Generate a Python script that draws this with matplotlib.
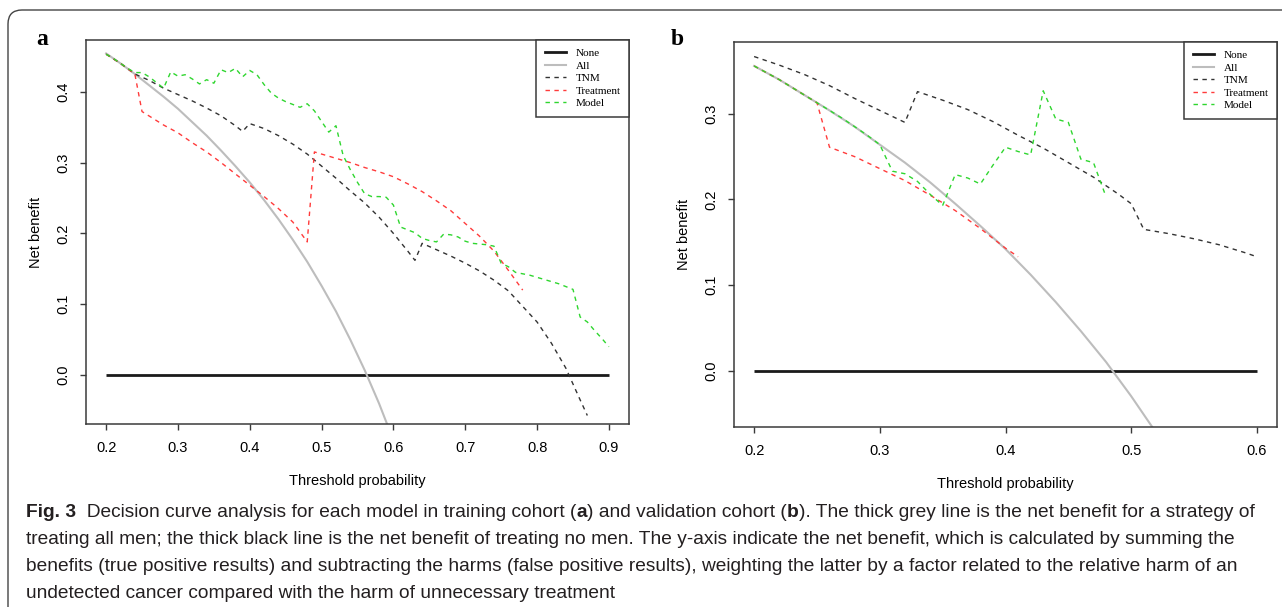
import matplotlib
matplotlib.use("Agg")
import matplotlib.pyplot as plt
from matplotlib.patches import FancyBboxPatch
from matplotlib.transforms import IdentityTransform
from matplotlib.lines import Line2D

# ---------------- data: panel a (training cohort) ----------------
thr_all_a = [0.20, 0.22, 0.24, 0.26, 0.28, 0.30, 0.32, 0.34, 0.36, 0.38, 0.40,
             0.42, 0.44, 0.46, 0.48, 0.50, 0.52, 0.54, 0.56, 0.58, 0.60]
nb_all_a = [0.454, 0.440, 0.425, 0.409, 0.393, 0.376, 0.357, 0.338, 0.317, 0.295, 0.272,
            0.247, 0.220, 0.191, 0.160, 0.126, 0.090, 0.050, 0.007, -0.040, -0.092]
none_x_a = [0.2, 0.9]
none_y_a = [0.0, 0.0]

thr_tnm_a = [0.20, 0.22, 0.24, 0.26, 0.28, 0.30, 0.32, 0.34, 0.36, 0.38, 0.39, 0.40,
             0.42, 0.44, 0.46, 0.48, 0.50, 0.52, 0.54, 0.56, 0.58, 0.60, 0.62, 0.63,
             0.64, 0.66, 0.68, 0.70, 0.72, 0.74, 0.76, 0.78, 0.80, 0.82, 0.84, 0.86, 0.87]
nb_tnm_a = [0.453, 0.440, 0.425, 0.416, 0.405, 0.396, 0.387, 0.377, 0.366, 0.352, 0.344, 0.355,
            0.348, 0.338, 0.326, 0.312, 0.295, 0.278, 0.260, 0.243, 0.223, 0.200, 0.175, 0.162,
            0.186, 0.177, 0.168, 0.158, 0.147, 0.134, 0.119, 0.097, 0.075, 0.045, 0.010, -0.035, -0.057]

thr_trt_a = [0.20, 0.22, 0.24, 0.25, 0.28, 0.30, 0.32, 0.34, 0.36, 0.38, 0.40, 0.42,
             0.44, 0.46, 0.48, 0.49, 0.50, 0.52, 0.54, 0.56, 0.58, 0.60, 0.62, 0.64,
             0.66, 0.68, 0.70, 0.72, 0.74, 0.76, 0.78]
nb_trt_a = [0.453, 0.440, 0.425, 0.372, 0.353, 0.342, 0.328, 0.315, 0.300, 0.284, 0.268, 0.252,
            0.235, 0.216, 0.188, 0.315, 0.312, 0.306, 0.300, 0.293, 0.287, 0.280, 0.270, 0.259,
            0.246, 0.232, 0.214, 0.196, 0.175, 0.148, 0.120]

thr_mod_a = [0.20, 0.21, 0.22, 0.23, 0.24, 0.25, 0.26, 0.27, 0.28, 0.29, 0.30, 0.31,
             0.32, 0.33, 0.34, 0.35, 0.36, 0.37, 0.38, 0.39, 0.40, 0.41, 0.42, 0.43,
             0.44, 0.45, 0.46, 0.47, 0.48, 0.49, 0.50, 0.51, 0.52, 0.53, 0.54, 0.55,
             0.56, 0.57, 0.58, 0.59, 0.60, 0.61, 0.62, 0.63, 0.64, 0.65, 0.66, 0.67,
             0.68, 0.69, 0.70, 0.71, 0.72, 0.73, 0.74, 0.75, 0.76, 0.77, 0.78, 0.79,
             0.80, 0.81, 0.82, 0.83, 0.84, 0.85, 0.86, 0.87, 0.88, 0.89, 0.90]
nb_mod_a = [0.453, 0.447, 0.440, 0.433, 0.427, 0.427, 0.421, 0.413, 0.405, 0.428, 0.422, 0.424,
            0.418, 0.411, 0.417, 0.412, 0.431, 0.427, 0.433, 0.421, 0.430, 0.424, 0.410, 0.398,
            0.391, 0.386, 0.382, 0.378, 0.383, 0.373, 0.358, 0.343, 0.352, 0.310, 0.290, 0.272,
            0.256, 0.252, 0.252, 0.251, 0.240, 0.209, 0.205, 0.201, 0.193, 0.190, 0.188, 0.199,
            0.198, 0.195, 0.189, 0.186, 0.185, 0.184, 0.182, 0.158, 0.153, 0.145, 0.143, 0.141,
            0.138, 0.135, 0.132, 0.129, 0.125, 0.121, 0.082, 0.075, 0.063, 0.052, 0.040]

xticks_a = [0.2, 0.3, 0.4, 0.5, 0.6, 0.7, 0.8, 0.9]
xticklabels_a = ["0.2", "0.3", "0.4", "0.5", "0.6", "0.7", "0.8", "0.9"]
yticks_a = [0.0, 0.1, 0.2, 0.3, 0.4]
yticklabels_a = ["0.0", "0.1", "0.2", "0.3", "0.4"]

# ---------------- data: panel b (validation cohort) ----------------
thr_all_b = [0.20, 0.22, 0.24, 0.26, 0.28, 0.30, 0.32, 0.34, 0.36, 0.38, 0.40,
             0.42, 0.44, 0.46, 0.48, 0.50, 0.52]
nb_all_b = [0.356, 0.340, 0.322, 0.304, 0.285, 0.264, 0.243, 0.220, 0.195, 0.169, 0.142,
            0.112, 0.080, 0.046, 0.010, -0.030, -0.073]
none_x_b = [0.2, 0.6]
none_y_b = [0.0, 0.0]

thr_tnm_b = [0.20, 0.22, 0.24, 0.26, 0.28, 0.30, 0.32, 0.33, 0.35, 0.37, 0.39, 0.41,
             0.43, 0.45, 0.47, 0.49, 0.50, 0.51, 0.53, 0.55, 0.57, 0.59, 0.60]
nb_tnm_b = [0.367, 0.357, 0.346, 0.333, 0.318, 0.304, 0.290, 0.326, 0.316, 0.305, 0.291, 0.275,
            0.260, 0.243, 0.226, 0.206, 0.195, 0.165, 0.160, 0.154, 0.147, 0.138, 0.133]

thr_trt_b = [0.20, 0.22, 0.24, 0.25, 0.26, 0.28, 0.30, 0.32, 0.34, 0.36, 0.38, 0.40, 0.41]
nb_trt_b = [0.356, 0.340, 0.322, 0.313, 0.261, 0.250, 0.236, 0.222, 0.205, 0.187, 0.166, 0.143, 0.133]

thr_mod_b = [0.20, 0.21, 0.22, 0.23, 0.24, 0.25, 0.26, 0.27, 0.28, 0.29, 0.30, 0.31,
             0.32, 0.33, 0.34, 0.35, 0.36, 0.37, 0.38, 0.39, 0.40, 0.41, 0.42, 0.43,
             0.44, 0.45, 0.46, 0.47, 0.48]
nb_mod_b = [0.356, 0.348, 0.340, 0.331, 0.322, 0.313, 0.304, 0.295, 0.285, 0.275, 0.264, 0.233,
            0.230, 0.221, 0.206, 0.193, 0.229, 0.225, 0.218, 0.240, 0.261, 0.256, 0.252, 0.327,
            0.294, 0.290, 0.247, 0.243, 0.203]

xticks_b = [0.2, 0.3, 0.4, 0.5, 0.6]
xticklabels_b = ["0.2", "0.3", "0.4", "0.5", "0.6"]
yticks_b = [0.0, 0.1, 0.2, 0.3]
yticklabels_b = ["0.0", "0.1", "0.2", "0.3"]

legend_labels = ["None", "All", "TNM", "Treatment", "Model"]
panel_letters = ["a", "b"]
xlabel = "Threshold probability"
ylabel = "Net benefit"

caption_lines = [
    [("Fig. 3", True), ("  Decision curve analysis for each model in training cohort (", False),
     ("a", True), (") and validation cohort (", False), ("b", True),
     ("). The thick grey line is the net benefit for a strategy of", False)],
    [("treating all men; the thick black line is the net benefit of treating no men. The y-axis indicate the net benefit, which is calculated by summing the", False)],
    [("benefits (true positive results) and subtracting the harms (false positive results), weighting the latter by a factor related to the relative harm of an", False)],
    [("undetected cancer compared with the harm of unnecessary treatment", False)],
]

# ---------------- styling ----------------
W, H = 1282, 607
C_NONE = "#1a1a1a"
C_ALL = "#bdbdbd"
C_TNM = "#333333"
C_TRT = "#ff3b3b"
C_MOD = "#2fd62f"
FRAME = "#3a3a3a"
SANS = ["Liberation Sans", "DejaVu Sans"]
SERIF = ["Liberation Serif", "DejaVu Serif"]
CAP = ["Liberation Sans Narrow", "Liberation Sans", "DejaVu Sans"]
DASH = (3.2, 3.2)

fig = plt.figure(figsize=(W / 100, H / 100), dpi=100)
fig.patch.set_facecolor("white")

axa = fig.add_axes([86 / W, (H - 424) / H, 543 / W, 384 / H])
axb = fig.add_axes([734 / W, (H - 427) / H, 543 / W, 385 / H])


def draw_panel(ax, none_x, none_y, tx_all, nb_all, tx_tnm, nb_tnm, tx_trt, nb_trt,
               tx_mod, nb_mod, xt, xtl, yt, ytl, xlim, ylim):
    ax.plot(none_x, none_y, color=C_NONE, lw=2.0, solid_capstyle="butt")
    ax.plot(tx_all, nb_all, color=C_ALL, lw=1.5)
    ax.plot(tx_tnm, nb_tnm, color=C_TNM, lw=1.0, dashes=DASH)
    ax.plot(tx_trt, nb_trt, color=C_TRT, lw=1.0, dashes=DASH)
    ax.plot(tx_mod, nb_mod, color=C_MOD, lw=1.0, dashes=DASH)
    ax.set_xlim(*xlim)
    ax.set_ylim(*ylim)
    ax.set_xticks(xt)
    ax.set_xticklabels(xtl, fontfamily=SANS, fontsize=10.5)
    ax.set_yticks(yt)
    ax.set_yticklabels(ytl, fontfamily=SANS, fontsize=10.5, rotation=90, va="center")
    ax.tick_params(direction="out", length=4, width=1.0, color=FRAME, pad=8)
    ax.tick_params(axis="y", pad=7)
    for s in ax.spines.values():
        s.set_color(FRAME)
        s.set_linewidth(1.1)
    ax.set_xlabel(xlabel, fontfamily=SANS, fontsize=10.5, labelpad=14)
    ax.set_ylabel(ylabel, fontfamily=SANS, fontsize=10.5, labelpad=10)
    handles = [
        Line2D([], [], color=C_NONE, lw=2.0),
        Line2D([], [], color=C_ALL, lw=1.5),
        Line2D([], [], color=C_TNM, lw=1.0, dashes=DASH),
        Line2D([], [], color=C_TRT, lw=1.0, dashes=DASH),
        Line2D([], [], color=C_MOD, lw=1.0, dashes=DASH),
    ]
    leg = ax.legend(handles, legend_labels, loc="upper right", borderaxespad=0,
                    fancybox=False, framealpha=1, edgecolor=FRAME,
                    prop={"family": SERIF, "size": 8}, handlelength=1.9,
                    handletextpad=0.9, labelspacing=0.25, borderpad=0.75)
    leg.get_frame().set_linewidth(1.1)


draw_panel(axa, none_x_a, none_y_a, thr_all_a, nb_all_a, thr_tnm_a, nb_tnm_a,
           thr_trt_a, nb_trt_a, thr_mod_a, nb_mod_a, xticks_a, xticklabels_a,
           yticks_a, yticklabels_a, (0.172, 0.928), (-0.069, 0.473))
draw_panel(axb, none_x_b, none_y_b, thr_all_b, nb_all_b, thr_tnm_b, nb_tnm_b,
           thr_trt_b, nb_trt_b, thr_mod_b, nb_mod_b, xticks_b, xticklabels_b,
           yticks_b, yticklabels_b, (0.184, 0.616), (-0.066, 0.384))

# panel letters
fig.text(36 / W, 1 - 45 / H, panel_letters[0], fontfamily=SERIF, fontweight="bold",
         fontsize=17, va="baseline", ha="left")
fig.text(671 / W, 1 - 45 / H, panel_letters[1], fontfamily=SERIF, fontweight="bold",
         fontsize=17, va="baseline", ha="left")

# rounded frame around the whole figure
border = FancyBboxPatch((8, -30), 1320, (H - 10) + 30,
                        boxstyle="round,pad=0,rounding_size=14",
                        transform=IdentityTransform(), fill=False,
                        edgecolor="#444444", linewidth=1.0)
fig.add_artist(border)

# caption
renderer = fig.canvas.get_renderer()


def place_line(pieces, x0, y_base, fs):
    x = x0
    made = []
    for txt, bold in pieces:
        t = fig.text(x / W, 1 - y_base / H, txt, fontfamily=CAP, fontsize=fs,
                     fontweight="bold" if bold else "normal", va="baseline",
                     ha="left", color="#231f20")
        x += t.get_window_extent(renderer).width
        made.append(t)
    return x, made


# fit the caption font size to the reference line width
x_end, trial = place_line(caption_lines[0], 26, 517, 10)
for t in trial:
    t.remove()
cap_fs = 10 * (1262 - 26) / (x_end - 26)

baselines = [517, 544, 571, 598]
for pieces, yb in zip(caption_lines, baselines):
    place_line(pieces, 26, yb, cap_fs)

fig.savefig("out.png", dpi=100, facecolor="white")
